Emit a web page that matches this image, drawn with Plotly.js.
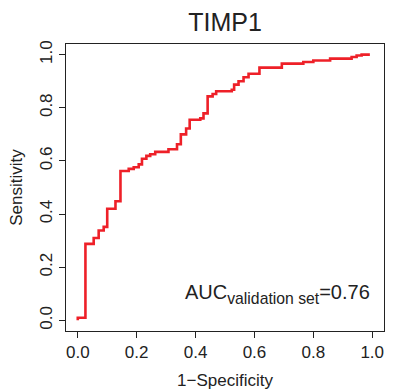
<!DOCTYPE html>
<html>
<head>
<meta charset="utf-8">
<script src="https://cdn.plot.ly/plotly-3.0.1.min.js"></script>
<style>html,body{margin:0;padding:0;background:#fff}#chart{width:395px;height:392px}</style>
</head>
<body>
<div id="chart"></div>
<script>
// ROC curve of TIMP1 (validation set)
const fpr = [0, 0, 0.026, 0.054, 0.071, 0.088, 0.100, 0.128, 0.145, 0.173, 0.190, 0.207, 0.218, 0.233, 0.246, 0.263,
  0.308, 0.337, 0.350, 0.368, 0.380, 0.416, 0.427, 0.441, 0.458, 0.470, 0.523, 0.531, 0.546, 0.563, 0.580,
  0.617, 0.693, 0.766, 0.800, 0.857, 0.930, 0.947, 0.964, 0.992];
const tpr = [0, 0.010, 0.288, 0.310, 0.338, 0.352, 0.420, 0.448, 0.562, 0.570, 0.576, 0.587, 0.608, 0.619, 0.625, 0.634,
  0.644, 0.663, 0.700, 0.722, 0.755, 0.760, 0.779, 0.843, 0.852, 0.862, 0.868, 0.887, 0.900, 0.915, 0.928,
  0.951, 0.966, 0.972, 0.978, 0.985, 0.991, 0.997, 1.000, 1.000];
const tickVals = [0, 0.2, 0.4, 0.6, 0.8, 1.0];
const tickText = ['0.0', '0.2', '0.4', '0.6', '0.8', '1.0'];
const chartTitle = 'TIMP1';
const xTitle = '1\u2212Specificity';
const yTitle = 'Sensitivity';
const aucValue = '0.76';

const FONT = '"Liberation Sans", Arial, Helvetica, sans-serif';
const INK = '#222';

const trace = {
  x: fpr, y: tpr, type: 'scatter', mode: 'lines',
  line: {color: '#ee2028', width: 2.6, shape: 'hv'},
  hoverinfo: 'skip'
};

const axisCommon = {
  range: [-0.04, 1.04], tickvals: tickVals, ticktext: tickText,
  ticks: 'outside', ticklen: 6, tickwidth: 1, tickcolor: INK,
  showline: true, mirror: true, linecolor: INK, linewidth: 1,
  showgrid: false, zeroline: false,
  tickfont: {family: FONT, size: 17, color: INK},
  automargin: false, fixedrange: true
};

const layout = {
  width: 395, height: 392,
  margin: {l: 66, r: 11, t: 44, b: 61},
  paper_bgcolor: '#fff', plot_bgcolor: '#fff',
  showlegend: false,
  title: {text: chartTitle, font: {family: FONT, size: 25, color: INK},
          xref: 'paper', x: 0.5, xanchor: 'center', yref: 'container', y: 1 - 22/392, yanchor: 'middle'},
  xaxis: Object.assign({}, axisCommon, {
    title: {text: xTitle, font: {family: FONT, size: 17, color: INK}, standoff: 12}
  }),
  yaxis: Object.assign({}, axisCommon, {
    tickangle: -90,
    title: {text: yTitle, font: {family: FONT, size: 17, color: INK}, standoff: 10}
  }),
  annotations: [{
    xref: 'x', yref: 'y', x: 0.998, y: 0.10, xanchor: 'right', yanchor: 'middle',
    text: '<span style="font-size:20px">AUC</span><sub>validation set</sub><span style="font-size:20px">=' + aucValue + '</span>',
    showarrow: false, font: {family: FONT, size: 22.5, color: INK}
  }]
};

Plotly.newPlot('chart', [trace], layout, {displayModeBar: false, staticPlot: true});
</script>
</body>
</html>
